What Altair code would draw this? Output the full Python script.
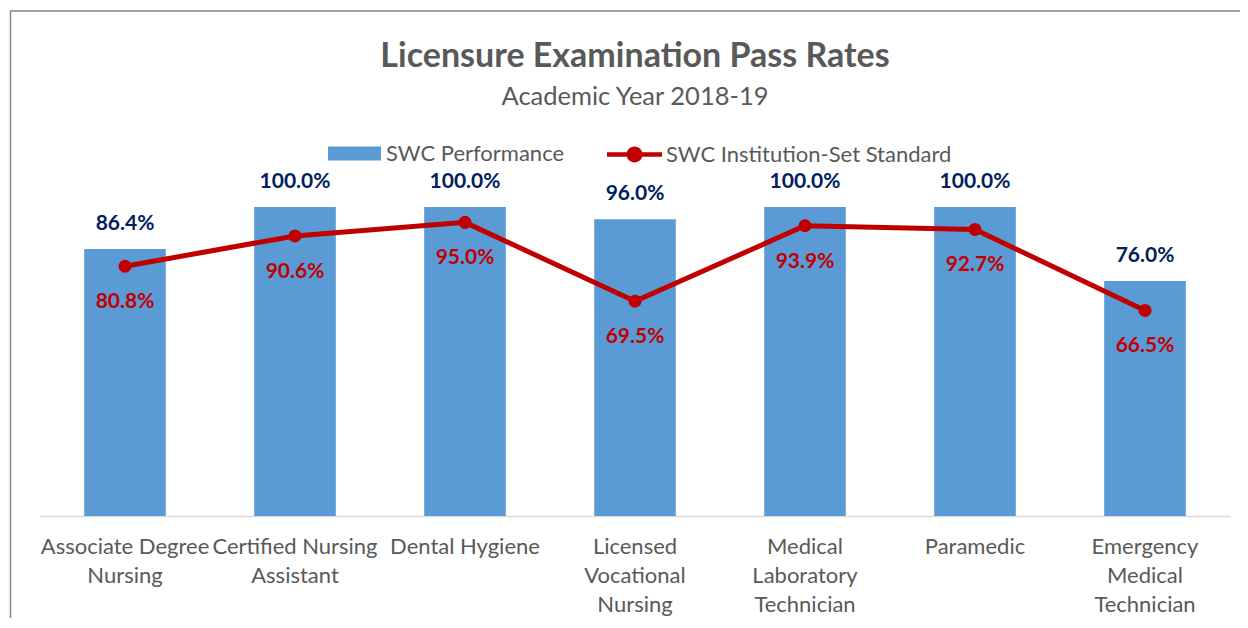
import altair as alt
import pandas as pd

categories = [
    "Associate Degree\nNursing",
    "Certified Nursing\nAssistant",
    "Dental Hygiene",
    "Licensed\nVocational\nNursing",
    "Medical\nLaboratory\nTechnician",
    "Paramedic",
    "Emergency\nMedical\nTechnician",
]
performance = [0.864, 1.0, 1.0, 0.96, 1.0, 1.0, 0.76]
standard = [0.808, 0.906, 0.95, 0.695, 0.939, 0.927, 0.665]
series_names = ["SWC Performance", "SWC Institution-Set Standard"]
title_text = "Licensure Examination Pass Rates"
subtitle_text = "Academic Year 2018-19"

FONT = "Lato"
BLUE = "#5B9BD5"
RED = "#C00000"
NAVY = "#002060"
GRAY = "#595959"

perf_df = pd.DataFrame({"category": categories, "value": performance, "series": series_names[0]})
std_df = pd.DataFrame({"category": categories, "value": standard, "series": series_names[1]})

W, H = 1190, 340
PAD_L, PAD_T = 32, 168

x_enc = alt.X(
    "category:N",
    sort=categories,
    scale=alt.Scale(paddingInner=0.52, paddingOuter=0.26),
    axis=alt.Axis(
        title=None,
        labelAngle=0,
        ticks=False,
        domainColor="#D9D9D9",
        domainWidth=1.5,
        labelFont=FONT,
        labelFontSize=22,
        labelColor=GRAY,
        labelPadding=20,
        labelLineHeight=29,
        labelExpr="split(datum.label, '\\n')",
        labelLimit=300,
    ),
)
y_enc = alt.Y("value:Q", scale=alt.Scale(domain=[0, 1.1], nice=False, zero=True), axis=None)

bar_path = "M-1,-0.264H1V0.264H-1Z"
line_path = ("M-1,-0.085H1V0.085H-1Z "
             "M-0.29,0A0.29,0.29 0 1,1 0.29,0A0.29,0.29 0 1,1 -0.29,0Z")

bars = alt.Chart(perf_df).mark_bar().encode(
    x=x_enc,
    y=y_enc,
    fill=alt.Fill(
        "series:N",
        scale=alt.Scale(domain=[series_names[0]], range=[BLUE]),
        legend=alt.Legend(
            title=None,
            orient="none",
            legendX=288,
            legendY=-49,
            symbolType=bar_path,
            symbolSize=2809,
            symbolStrokeWidth=0,
            labelFont=FONT,
            labelFontSize=22,
            labelColor=GRAY,
            labelOffset=5,
            labelLimit=400,
            padding=0,
        ),
    ),
)

bar_labels = alt.Chart(perf_df).mark_text(
    font=FONT, fontSize=21, fontWeight="bold", color=NAVY, baseline="alphabetic", dy=-19
).encode(x=alt.X("category:N", sort=categories), y=y_enc, text=alt.Text("value:Q", format=".1%"))

line = alt.Chart(std_df).mark_line(color=RED, strokeWidth=5).encode(
    x=alt.X("category:N", sort=categories), y=y_enc
)

points = alt.Chart(std_df).mark_point(filled=True, size=170, opacity=1).encode(
    x=alt.X("category:N", sort=categories),
    y=y_enc,
    color=alt.Color(
        "series:N",
        scale=alt.Scale(domain=[series_names[1]], range=[RED]),
        legend=alt.Legend(
            title=None,
            orient="none",
            legendX=567,
            legendY=-49,
            symbolType=line_path,
            symbolSize=3025,
            symbolStrokeWidth=0,
            labelFont=FONT,
            labelFontSize=22,
            labelColor=GRAY,
            labelOffset=4,
            labelLimit=400,
            padding=0,
        ),
    ),
)

line_labels = alt.Chart(std_df).mark_text(
    font=FONT, fontSize=21, fontWeight="bold", color=RED, baseline="alphabetic", dy=42
).encode(x=alt.X("category:N", sort=categories), y=y_enc, text=alt.Text("value:Q", format=".1%"))

one = pd.DataFrame({"k": [0]})

border = alt.Chart(one).mark_rect(
    fill=None, stroke="#888888", strokeWidth=1.5
).encode(
    x=alt.value(10.5 - 8 - PAD_L),
    x2=alt.value(W + 60),
    y=alt.value(11 - 8 - PAD_T),
    y2=alt.value(H + 200),
)

title_mark = alt.Chart(one).mark_text(
    text=title_text, font=FONT, fontSize=34, fontWeight="bold", color=GRAY,
    align="center", baseline="alphabetic",
).encode(x=alt.value(W / 2), y=alt.value(67 - 8 - PAD_T))

subtitle_mark = alt.Chart(one).mark_text(
    text=subtitle_text, font=FONT, fontSize=25.5, color=GRAY,
    align="center", baseline="alphabetic",
).encode(x=alt.value(W / 2), y=alt.value(105 - 8 - PAD_T))

chart = alt.layer(
    border, title_mark, subtitle_mark, bars, bar_labels, line, points, line_labels
).properties(
    width=W,
    height=H,
    autosize=alt.AutoSizeParams(type="none"),
    padding={"left": PAD_L, "top": PAD_T, "right": 10, "bottom": 102},
).configure_view(strokeWidth=0)

chart.save("out.html", embed_options={"renderer": "svg", "actions": False})
